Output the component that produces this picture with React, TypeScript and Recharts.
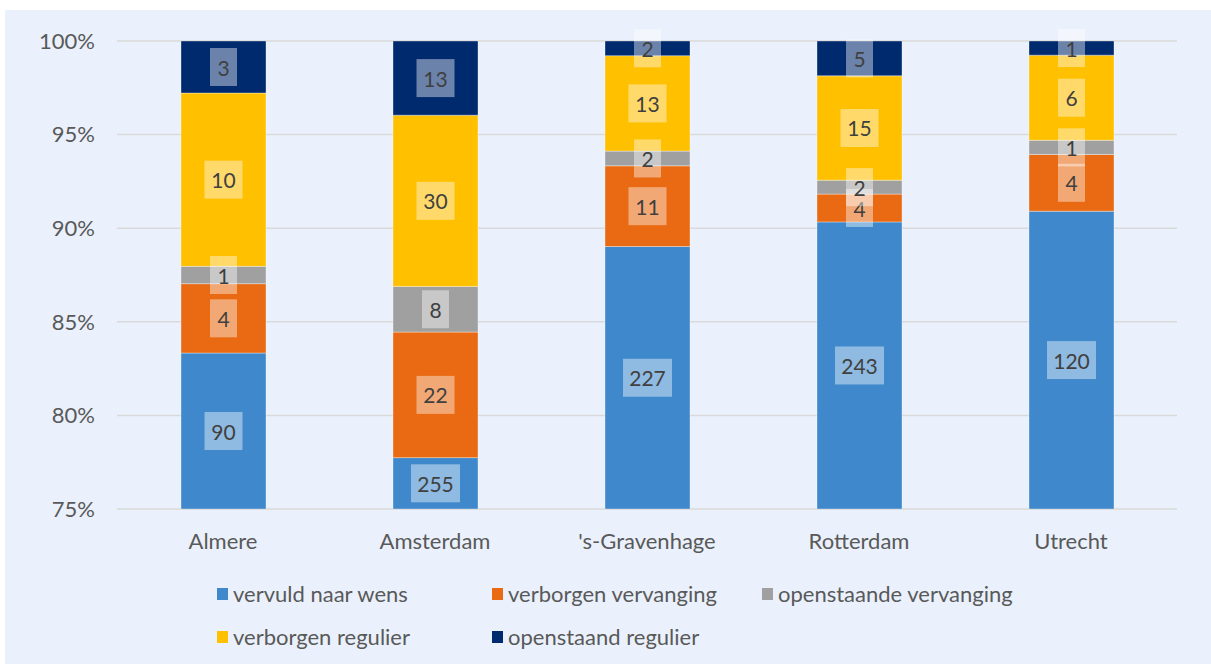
import React from 'react';
import { BarChart, Bar, XAxis, YAxis, CartesianGrid, Legend, LabelList } from 'recharts';

// counts per city, shown as share of the total (axis starts at 75%)
const cities = ['Almere', 'Amsterdam', "'s-Gravenhage", 'Rotterdam', 'Utrecht'];
const vervuldNaarWens = [90, 255, 227, 243, 120];
const verborgenVervanging = [4, 22, 11, 4, 4];
const openstaandeVervanging = [1, 8, 2, 2, 1];
const verborgenRegulier = [10, 30, 13, 15, 6];
const openstaandRegulier = [3, 13, 2, 5, 1];
const yTicks = [75, 80, 85, 90, 95, 100];

const AXIS_MIN = 75;

const series = [
  { key: 'vervuld', name: 'vervuld naar wens', color: '#3E88CB', counts: vervuldNaarWens },
  { key: 'verbVerv', name: 'verborgen vervanging', color: '#E96A12', counts: verborgenVervanging },
  { key: 'openVerv', name: 'openstaande vervanging', color: '#A0A0A0', counts: openstaandeVervanging },
  { key: 'verbReg', name: 'verborgen regulier', color: '#FFC000', counts: verborgenRegulier },
  { key: 'openReg', name: 'openstaand regulier', color: '#002A6E', counts: openstaandRegulier },
];

const data = cities.map((city, i) => {
  const total = series.reduce((s, sr) => s + sr.counts[i], 0);
  const row: Record<string, any> = { city };
  series.forEach((sr, si) => {
    const pct = (sr.counts[i] / total) * 100;
    // first segment only shows the part above the axis minimum
    row[sr.key] = si === 0 ? pct - AXIS_MIN : pct;
    row[sr.key + 'N'] = sr.counts[i];
  });
  return row;
});

const FONT = 'Lato, "Open Sans", sans-serif';

const BoxLabel = (props: any) => {
  const { x, y, width, height, value } = props;
  const cx = x + width / 2;
  const cy = y + height / 2;
  const w = String(value).length * 11 + 16;
  return (
    <g>
      <rect x={cx - w / 2} y={cy - 19} width={w} height={38} fill="#fff" fillOpacity={0.42} />
      <text x={cx} y={cy} textAnchor="middle" dominantBaseline="central" fontSize={21} fill="#404040" fontFamily={FONT}>
        {value}
      </text>
    </g>
  );
};

const legendPos = [
  { left: 212, top: 0 },
  { left: 487, top: 0 },
  { left: 757, top: 0 },
  { left: 212, top: 43 },
  { left: 487, top: 43 },
];

const CustomLegend = () => (
  <div style={{ position: 'relative', width: 1206, height: 80 }}>
    {series.map((s, i) => (
      <div
        key={s.key}
        style={{
          position: 'absolute',
          left: legendPos[i].left,
          top: legendPos[i].top,
          display: 'flex',
          alignItems: 'center',
          fontFamily: FONT,
          fontSize: 22,
          lineHeight: '26px',
          color: '#595959',
          whiteSpace: 'nowrap',
        }}
      >
        <span style={{ display: 'inline-block', width: 11, height: 12, background: s.color, marginRight: 5 }} />
        {s.name}
      </div>
    ))}
  </div>
);

export default function App() {
  return (
    <div style={{ width: 1211, height: 664, background: '#fff', position: 'relative', overflow: 'hidden' }}>
      <style>{`body{margin:0}`}</style>
      <div style={{ position: 'absolute', left: 5, top: 10, width: 1206, height: 654, background: '#EAF1FC' }}>
        <BarChart
          width={1206}
          height={654}
          data={data}
          margin={{ top: 31, right: 34, left: 0, bottom: 25 }}
          barSize={85}
        >
          <CartesianGrid horizontal vertical={false} stroke="#D9D9D9" strokeWidth={1.5} />
          <XAxis
            dataKey="city"
            axisLine={false}
            tickLine={false}
            tickSize={0}
            tickMargin={24}
            height={50}
            tick={{ fontSize: 22, fill: '#595959', fontFamily: FONT }}
          />
          <YAxis
            type="number"
            domain={[0, 100 - AXIS_MIN]}
            ticks={yTicks.map((t) => t - AXIS_MIN)}
            tickFormatter={(v: number) => `${v + AXIS_MIN}%`}
            allowDataOverflow
            axisLine={false}
            tickLine={false}
            tickSize={0}
            tickMargin={22}
            width={112}
            tick={{ fontSize: 22, fill: '#595959', fontFamily: FONT }}
          />
          <Legend
            content={<CustomLegend />}
            wrapperStyle={{ position: 'absolute', left: 0, top: 571, width: 1206, height: 80 }}
          />
          {series.map((s) => (
            <Bar
              key={s.key}
              dataKey={s.key}
              name={s.name}
              stackId="a"
              fill={s.color}
              stroke="rgba(255,255,255,0.35)"
              strokeWidth={1}
              isAnimationActive={false}
            >
              <LabelList dataKey={s.key + 'N'} content={<BoxLabel />} />
            </Bar>
          ))}
        </BarChart>
      </div>
    </div>
  );
}
